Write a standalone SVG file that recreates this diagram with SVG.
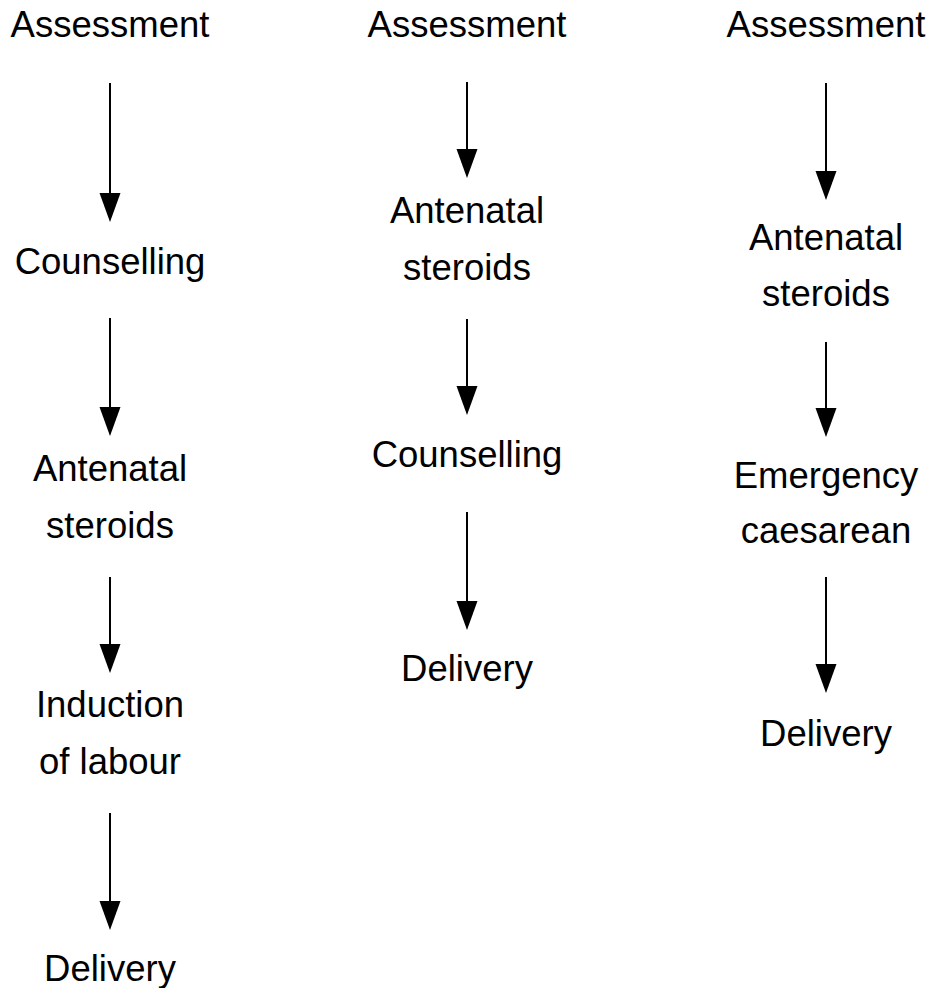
<svg xmlns="http://www.w3.org/2000/svg" width="931" height="988" viewBox="0 0 931 988">
  <defs>
    <!-- solid triangular head; base sits 2px before the line end, tip 27px past it -->
    <marker id="head" markerUnits="userSpaceOnUse" markerWidth="32" markerHeight="24" refX="2" refY="10.5" orient="auto" overflow="visible">
      <path d="M0,0 L29,10.5 L0,21 Z" fill="#000"/>
    </marker>
  </defs>
  <style>
    .lbl { font-family: "Liberation Sans", Arial, sans-serif; font-size: 36.5px; fill: #000; text-anchor: middle; }
    .flow line { stroke: #000; stroke-width: 2; marker-end: url(#head); }
  </style>
  <rect width="931" height="988" fill="#fff"/>

  <!-- Pathway 1 -->
  <g id="p1-assessment"><text class="lbl" x="110" y="37">Assessment</text></g>
  <g id="p1-counselling"><text class="lbl" x="110" y="274">Counselling</text></g>
  <g id="p1-steroids"><text class="lbl" x="110" y="481">Antenatal</text><text class="lbl" x="110" y="538">steroids</text></g>
  <g id="p1-induction"><text class="lbl" x="110" y="717">Induction</text><text class="lbl" x="110" y="774">of labour</text></g>
  <g id="p1-delivery"><text class="lbl" x="110" y="981">Delivery</text></g>

  <!-- Pathway 2 -->
  <g id="p2-assessment"><text class="lbl" x="467" y="37">Assessment</text></g>
  <g id="p2-steroids"><text class="lbl" x="467" y="223">Antenatal</text><text class="lbl" x="467" y="280">steroids</text></g>
  <g id="p2-counselling"><text class="lbl" x="467" y="467">Counselling</text></g>
  <g id="p2-delivery"><text class="lbl" x="467" y="681">Delivery</text></g>

  <!-- Pathway 3 -->
  <g id="p3-assessment"><text class="lbl" x="826" y="37">Assessment</text></g>
  <g id="p3-steroids"><text class="lbl" x="826" y="250">Antenatal</text><text class="lbl" x="826" y="306">steroids</text></g>
  <g id="p3-caesarean"><text class="lbl" x="826" y="488">Emergency</text><text class="lbl" x="826" y="543">caesarean</text></g>
  <g id="p3-delivery"><text class="lbl" x="826" y="746">Delivery</text></g>

  <!-- connectors: line end = arrow tip - 27 -->
  <g id="connectors" class="flow">
    <line x1="110" y1="83" x2="110" y2="195"/>
    <line x1="110" y1="318" x2="110" y2="409"/>
    <line x1="110" y1="577" x2="110" y2="646"/>
    <line x1="110" y1="813" x2="110" y2="903"/>

    <line x1="467" y1="82" x2="467" y2="151"/>
    <line x1="467" y1="319" x2="467" y2="388"/>
    <line x1="467" y1="512" x2="467" y2="603"/>

    <line x1="826" y1="83" x2="826" y2="173"/>
    <line x1="826" y1="342" x2="826" y2="410"/>
    <line x1="826" y1="577" x2="826" y2="666"/>
  </g>
</svg>
